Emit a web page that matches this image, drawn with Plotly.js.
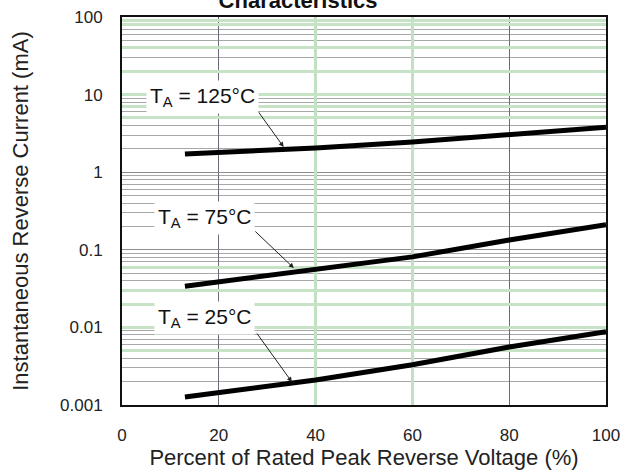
<!DOCTYPE html>
<html>
<head>
<meta charset="utf-8">
<script src="https://cdn.plot.ly/plotly-3.0.1.min.js"></script>
<style>html,body{margin:0;padding:0;background:#fff;}#chart{width:621px;height:473px;}</style>
</head>
<body>
<div id="chart"></div>
<script>
// Percent of rated peak reverse voltage (%)
var voltagePct = [13, 40, 60, 80, 100];
// Instantaneous reverse current (mA)
var current125C = [1.72, 2.05, 2.45, 3.0, 3.8];
var current75C  = [0.034, 0.057, 0.081, 0.134, 0.21];
var current25C  = [0.00127, 0.0021, 0.0033, 0.0056, 0.0088];
var seriesLabels = ['T<sub>A</sub> = 125°C', 'T<sub>A</sub> = 75°C', 'T<sub>A</sub> = 25°C'];
var xTickVals = [0, 20, 40, 60, 80, 100];
var yTickVals = [0.001, 0.01, 0.1, 1, 10, 100];
var yTickText = ['0.001', '0.01', '0.1', '1', '10', '100'];
// grid lines that appear green on the scanned sheet
var greenXGrid = [40, 60, 100];
var greenYGrid = [90, 80, 40, 20, 10, 7, 5, 0.06, 0.03, 0.02, 0.01, 0.005];

var minorVals = [];
for (var d = -3; d < 2; d++) {
  for (var m = 2; m <= 9; m++) minorVals.push(m * Math.pow(10, d));
}

var lineStyle = {color: '#000', width: 5};
var traces = [
  {x: voltagePct, y: current125C, mode: 'lines', line: lineStyle, hoverinfo: 'skip', name: seriesLabels[0]},
  {x: voltagePct, y: current75C, mode: 'lines', line: lineStyle, hoverinfo: 'skip', name: seriesLabels[1]},
  {x: voltagePct, y: current25C, mode: 'lines', line: lineStyle, hoverinfo: 'skip', name: seriesLabels[2]},
  {x: [50], y: [1], xaxis: 'x2', yaxis: 'y2', mode: 'markers', marker: {opacity: 0}, hoverinfo: 'skip', showlegend: false}
];

var tickFont = {family: 'Liberation Sans, Arial, sans-serif', size: 17, color: '#222'};
var annFont = {family: 'Liberation Sans, Arial, sans-serif', size: 21, color: '#111'};

function label(txt, x, y) {
  return {x: x, y: Math.log10(y), xref: 'x', yref: 'y', text: txt, showarrow: false,
          font: annFont, bgcolor: '#fff', borderpad: 3};
}
function arrow(x, y, ax, ay) {
  return {x: x, y: Math.log10(y), xref: 'x', yref: 'y', text: '', showarrow: true,
          ax: ax, ay: ay, axref: 'pixel', ayref: 'pixel',
          arrowhead: 2, arrowsize: 1, arrowwidth: 1, arrowcolor: '#222'};
}

var layout = {
  width: 621, height: 473,
  margin: {l: 122, r: 15, t: 17, b: 68},
  paper_bgcolor: '#fff', plot_bgcolor: '#fff',
  showlegend: false,
  title: {text: '<b>Characteristics</b>', x: 0.48, xref: 'container', xanchor: 'center',
          y: 1, yref: 'container', yanchor: 'middle',
          font: {family: 'Liberation Sans, Arial, sans-serif', size: 22, color: '#111'}},
  xaxis: {
    range: [0, 100], tickvals: xTickVals, ticks: 'outside', ticklen: 14, tickcolor: 'rgba(0,0,0,0)',
    ticklabeloverflow: 'allow',
    tickfont: tickFont, showgrid: true, gridcolor: '#6a6a7a', gridwidth: 1, zeroline: false,
    showline: true, mirror: true, linecolor: '#111', linewidth: 2,
    title: {text: 'Percent of Rated Peak Reverse Voltage (%)', standoff: 5,
            font: {family: 'Liberation Sans, Arial, sans-serif', size: 22, color: '#222'}}
  },
  yaxis: {
    type: 'log', range: [-3, 2], tickvals: yTickVals, ticktext: yTickText,
    ticks: 'outside', ticklen: 14, tickcolor: 'rgba(0,0,0,0)', tickfont: tickFont,
    showgrid: true, gridcolor: '#8c8c8c', gridwidth: 1, zeroline: false,
    minor: {tickvals: minorVals, showgrid: true, gridcolor: '#a8a8a8', gridwidth: 1, ticks: ''},
    showline: true, mirror: true, linecolor: '#111', linewidth: 2,
    title: {text: 'Instantaneous Reverse Current (mA)', standoff: 25,
            font: {family: 'Liberation Sans, Arial, sans-serif', size: 22, color: '#222'}}
  },
  xaxis2: {overlaying: 'x', range: [0, 100], tickvals: greenXGrid, showticklabels: false, ticks: '',
           showgrid: true, gridcolor: '#c2e0c2', gridwidth: 3, zeroline: false, showline: false},
  yaxis2: {overlaying: 'y', type: 'log', range: [-3, 2], tickvals: greenYGrid, showticklabels: false, ticks: '',
           showgrid: true, gridcolor: '#c6e3c6', gridwidth: 3, zeroline: false, showline: false},
  annotations: [
    arrow(33.4, 2.11, -28, -39),
    arrow(35.5, 0.0582, -40, -38),
    arrow(35.1, 0.00198, -36, -50),
    label(seriesLabels[0], 16.6, 9.3),
    label(seriesLabels[1], 17.0, 0.257),
    label(seriesLabels[2], 17.0, 0.0132)
  ]
};

Plotly.newPlot('chart', traces, layout, {staticPlot: true, displayModeBar: false});
</script>
</body>
</html>
